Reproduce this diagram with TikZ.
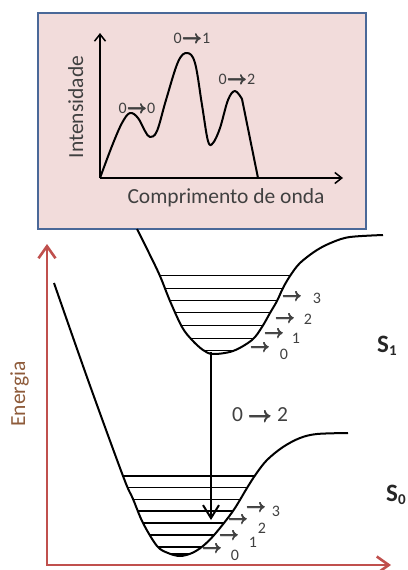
\documentclass[tikz,border=0pt]{standalone}
\usepackage{fontspec}
\setmainfont{Carlito}
\usetikzlibrary{arrows.meta}
\definecolor{boxfill}{HTML}{F2DCDB}
\definecolor{boxedge}{HTML}{4A6898}
\definecolor{axred}{HTML}{C0504D}
\definecolor{txt}{HTML}{404040}
\definecolor{entxt}{HTML}{8E5B3A}
\newcommand{\barr}{{\boldmath$\rightarrow$}}
\newcommand{\myarr}{\mbox{\rlap{\barr}\rlap{\raisebox{0.5pt}{\barr}}\rlap{\raisebox{-0.5pt}{\barr}}\hspace{0.6pt}\barr}}
\tikzset{
  gaxis/.style={line width=1.5pt,-{Straight Barb[length=7pt,width=11pt,line width=1.5pt]}},
  spec/.style={line width=2pt,line join=round},
  eaxis/.style={draw=axred,line width=2.6pt,{Straight Barb[length=12pt,width=17pt,line width=2.6pt]}-{Straight Barb[length=12pt,width=17pt,line width=2.6pt]}},
  pot/.style={line width=2pt,line join=round},
  level/.style={line width=1.4pt},
  trans/.style={line width=1.8pt,-{Straight Barb[length=13pt,width=16pt,line width=2pt]}},
  lbl/.style={text=txt,inner sep=0pt},
  big/.style={lbl,font=\fontsize{21.5}{22}\selectfont},
  peak/.style={lbl,font=\fontsize{16}{16}\selectfont},
  vib/.style={lbl,font=\fontsize{16}{16}\selectfont},
  varr/.style={vib,text height=5.5pt,text depth=-2.5pt},
  stlbl/.style={text=black!85,inner sep=0pt,font=\fontsize{25}{25}\selectfont\bfseries},
  sonecurve/.style={insert path={plot[smooth,tension=0.55] coordinates {(137,229) (149,253) (160,276) (170,301) (182,327) (192,340) (203,350) (213,354) (233,351) (252,340) (262,327) (270,313) (277,301) (283,288) (290,276) (300,263) (317,250) (333,242) (350,237) (383,235)}}},
  szerocurve/.style={insert path={plot[smooth,tension=0.55] coordinates {(54,283) (88,380) (123,476) (133,499) (143,523) (157,546) (168,553) (180,556) (192,553) (203,546) (215,534) (233,511) (247,488) (256,474) (267,460) (283,447) (300,438) (317,434) (348,433)}}}
}
\begin{document}
\begin{tikzpicture}[x=1pt,y=-1pt]
\useasboundingbox (0,0) rectangle (407,570);
% spectrum box
\node[draw=boxedge,fill=boxfill,line width=1.5pt,minimum width=328pt,minimum height=216pt,inner sep=0pt,anchor=north west] (box) at (37,12) {};
\coordinate (o) at (100,178);
\coordinate (ytip) at (100,33);
\coordinate (xtip) at (343,178);
\draw[gaxis] (o) -- (ytip);
\draw[gaxis] (o) -- (xtip);
\draw[spec] plot[smooth,tension=0.6] coordinates {(100,178) (112,146) (122,123) (130,113) (138,118) (145,131) (150,137) (157,131) (166,100) (178,62) (187,53) (195,63) (202,105) (208,141) (213,143) (220,128) (228,100) (235,91) (242,99)} -- (258,178);
\node[peak,anchor=base] (p00) at (137,113) {0\myarr0};
\node[peak,anchor=base] (p01) at (192,43) {0\myarr1};
\node[peak,anchor=base] (p02) at (237,84) {0\myarr2};
\node[big,rotate=90,anchor=base] (int) at (83,107) {Intensidade};
\node[big,anchor=base] (comp) at (226,203) {Comprimento de onda};
% energy axes
\coordinate (eo) at (47,565);
\coordinate (etip) at (47,244);
\coordinate (rtip) at (391,565);
\draw[eaxis] (etip) -- (eo) -- (rtip);
\node[big,text=entxt,rotate=90,anchor=base] (en) at (25,394) {Energia};
% S1 potential
\begin{scope}
\clip[sonecurve] -- (383,200) -- (137,200) -- cycle;
\foreach \yy in {275.7,288.3,300.7,312.7,325.7,338.3,350.5}
  \draw[level] (100,\yy) -- (400,\yy);
\end{scope}
\draw[pot,sonecurve];
% S0 potential
\begin{scope}
\clip[szerocurve] -- (348,380) -- (54,270) -- cycle;
\foreach \yy in {476,487.7,499.3,511,523,535,547,554}
  \draw[level] (40,\yy) -- (400,\yy);
\end{scope}
\draw[pot,szerocurve];
% transition
\coordinate (s1min) at (211,352);
\coordinate (s0lev) at (211,520);
\draw[trans] (s1min) -- (s0lev);
\node[big,anchor=center] (t02) at (260,415) {0 \myarr\ 2};
% vibrational labels S1
\node[varr] (a13) at (292,298) {\myarr};
\node[vib] (n13) at (317,298) {3};
\node[varr] (a12) at (285,320) {\myarr};
\node[vib] (n12) at (308,319) {2};
\node[varr] (a11) at (274,335) {\myarr};
\node[vib] (n11) at (296,338) {1};
\node[varr] (a10) at (260,349) {\myarr};
\node[vib] (n10) at (284,354) {0};
% vibrational labels S0
\node[varr] (a03) at (256,509) {\myarr};
\node[vib] (n03) at (276,511) {3};
\node[varr] (a02) at (238,521) {\myarr};
\node[vib] (n02) at (262,528) {2};
\node[varr] (a01) at (229,537) {\myarr};
\node[vib] (n01) at (253,542) {1};
\node[varr] (a00) at (212,550) {\myarr};
\node[vib] (n00) at (235,555) {0};
% state labels
\node[stlbl,anchor=base west] (s1) at (377,352) {S\raisebox{-3pt}{\fontsize{15}{15}\selectfont 1}};
\node[stlbl,anchor=base west] (s0) at (386,501) {S\raisebox{-3pt}{\fontsize{15}{15}\selectfont 0}};
\end{tikzpicture}
\end{document}
